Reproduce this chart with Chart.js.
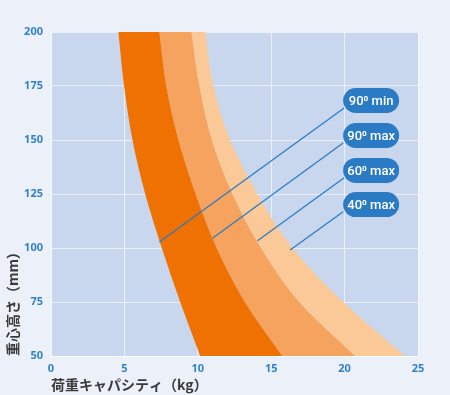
<!DOCTYPE html>
<html>
<head>
<meta charset="utf-8">
<script src="https://cdn.jsdelivr.net/npm/chart.js@4/dist/chart.umd.min.js"></script>
<style>
  html, body { margin: 0; padding: 0; background: #ecf0f9; }
  canvas { display: block; }
</style>
</head>
<body>
<canvas id="chart" width="450" height="395"></canvas>
<script>
// heights (mm) where the band edges were read
var heights = [50, 75, 100, 125, 150, 175, 200];
// load capacity (kg) of each curve at those heights
var min90 = [10.17, 8.80, 7.55, 6.42, 5.55, 4.98, 4.59];
var max90 = [15.75, 13.2, 11.28, 9.85, 8.68, 7.85, 7.38];
var max60 = [20.7, 16.9, 14.3, 12.35, 10.95, 10.1, 9.56];
var max40 = [24.1, 19.9, 16.45, 14.05, 12.2, 11.05, 10.51];

var curveLabels = ['90⁰ min', '90⁰ max', '60⁰ max', '40⁰ max'];
// leader lines: from the label box to the curve (kg, mm)
var leaderStart = [[19.97, 164.8], [19.9, 148.6], [19.97, 132.5], [19.9, 116.8]];
var leaderEnd = [[7.38, 102.8], [11.0, 104.5], [14.07, 103.4], [16.29, 99.1]];
// label box anchor (left edge kg, centre mm)
var labelAt = [[19.9, 168.3], [19.9, 152.1], [19.9, 135.9], [19.9, 120.1]];

var xTicks = [0, 5, 10, 15, 20, 25];
var yTicks = [50, 75, 100, 125, 150, 175, 200];

function pts(xs) {
    var out = [];
    for (var i = 0; i < heights.length; i++) {
        out.push({x: xs[i], y: heights[i]});
    }
    return out;
}

var bandColors = ['#ee7102', '#f5a35f', '#fbc998'];
var blue = '#2b7bc4';
var gridColor = 'rgba(255,255,255,0.6)';

var curves = [min90, max90, max60, max40];
var datasets = [];
for (var i = 0; i < curves.length; i++) {
    datasets.push({
        label: curveLabels[i],
        data: pts(curves[i]),
        borderWidth: 0,
        borderColor: 'rgba(0,0,0,0)',
        backgroundColor: i === 0 ? 'rgba(0,0,0,0)' : bandColors[i - 1],
        fill: i === 0 ? false : '-1',
        pointRadius: 0,
        order: 2,
        cubicInterpolationMode: 'monotone'
    });
}
for (var i = 0; i < leaderEnd.length; i++) {
    datasets.push({
        label: 'leader' + i,
        data: [{x: leaderStart[i][0], y: leaderStart[i][1]}, {x: leaderEnd[i][0], y: leaderEnd[i][1]}],
        borderColor: blue,
        borderWidth: 1.3,
        fill: false,
        pointRadius: 0,
        order: 1
    });
}

var plotBg = {
    id: 'plotBg',
    beforeDraw: function (chart) {
        var a = chart.chartArea, ctx = chart.ctx;
        ctx.save();
        ctx.fillStyle = '#c9d7ee';
        ctx.fillRect(a.left, a.top, a.right - a.left, a.bottom - a.top);
        ctx.restore();
    }
};

var pills = {
    id: 'pills',
    afterDraw: function (chart) {
        var ctx = chart.ctx, xs = chart.scales.x, ys = chart.scales.y;
        var w = 56, h = 25, r = 12.5;
        ctx.save();
        for (var i = 0; i < labelAt.length; i++) {
            var x = xs.getPixelForValue(labelAt[i][0]);
            var y = ys.getPixelForValue(labelAt[i][1]);
            ctx.beginPath();
            ctx.roundRect(x, y - h / 2, w, h, r);
            ctx.fillStyle = blue;
            ctx.fill();
            ctx.fillStyle = '#ffffff';
            ctx.font = '500 13px Roboto';
            ctx.textAlign = 'center';
            ctx.textBaseline = 'middle';
            ctx.fillText(curveLabels[i], x + w / 2, y + 1);
        }
        ctx.restore();
    }
};

var ctx = document.getElementById('chart');
var chart = new Chart(ctx, {
    type: 'line',
    data: {datasets: datasets},
    plugins: [plotBg, pills],
    options: {
        responsive: false,
        animation: false,
        indexAxis: 'y',
        layout: {padding: {top: 32, right: 32, left: 0, bottom: 0}},
        plugins: {legend: {display: false}, tooltip: {enabled: false}},
        scales: {
            x: {
                type: 'linear',
                min: 0,
                max: 25,
                z: 1,
                afterFit: function (s) { s.height = 39; },
                afterBuildTicks: function (s) { s.ticks = xTicks.map(function (v) { return {value: v}; }); },
                grid: {color: gridColor, drawTicks: false},
                border: {color: gridColor},
                ticks: {color: '#3382c9', padding: 6, font: {family: 'Noto Sans', size: 11, weight: 'bold'}},
                title: {
                    display: true,
                    text: '荷重キャパシティ（kg）',
                    align: 'start',
                    color: '#3a3a3a',
                    padding: {top: 0, bottom: 2},
                    font: {family: 'Noto Sans CJK JP', size: 14, weight: 'bold'}
                }
            },
            y: {
                type: 'linear',
                min: 50,
                max: 200,
                z: 1,
                afterFit: function (s) { s.width = 51; },
                afterBuildTicks: function (s) { s.ticks = yTicks.map(function (v) { return {value: v}; }); },
                grid: {color: gridColor, drawTicks: false},
                border: {color: gridColor},
                ticks: {color: '#3382c9', padding: 8, font: {family: 'Noto Sans', size: 11, weight: 'bold'}},
                title: {
                    display: true,
                    text: '重心高さ（mm）',
                    align: 'start',
                    color: '#3a3a3a',
                    padding: {top: 4, bottom: 0},
                    font: {family: 'Noto Sans CJK JP', size: 14, weight: 'bold'}
                }
            }
        }
    }
});
</script>
</body>
</html>
